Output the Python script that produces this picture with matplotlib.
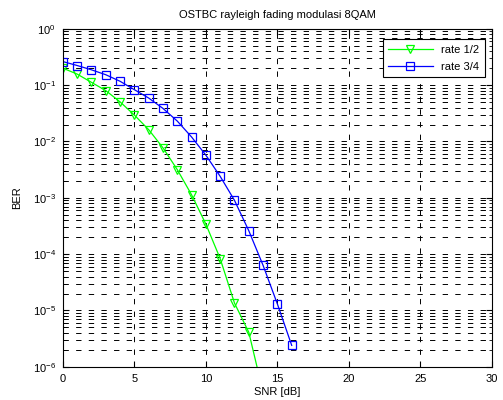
import numpy as np
import matplotlib
matplotlib.use("Agg")
import matplotlib.pyplot as plt
from matplotlib.ticker import LogLocator, NullFormatter, FixedLocator

plt.rcParams['font.family'] = ['Liberation Sans', 'DejaVu Sans']
plt.rcParams['font.size'] = 8

snr_half = [0, 1, 2, 3, 4, 5, 6, 7, 8, 9, 10, 11, 12, 13, 14]
ber_half = [0.2, 0.157, 0.112, 0.08, 0.0504, 0.0294, 0.0162, 0.0077, 0.00316,
            0.00113, 3.4e-4, 8.3e-5, 1.35e-5, 4.1e-6, 3.5e-7]

snr_34 = [0, 1, 2, 3, 4, 5, 6, 7, 8, 9, 10, 11, 12, 13, 14, 15, 16]
ber_34 = [0.262, 0.223, 0.187, 0.153, 0.117, 0.083, 0.059, 0.0386, 0.023,
          0.012, 0.0057, 0.0024, 9e-4, 2.6e-4, 6.3e-5, 1.3e-5, 2.4e-6]

decades = [1e-6, 1e-5, 1e-4, 1e-3, 1e-2, 1e-1, 1e0]

fig = plt.figure(figsize=(5.03, 4.0), dpi=100)
ax = fig.add_axes([0.125, 0.083, 0.853, 0.845])

ax.semilogy(snr_half, ber_half, color=(0, 1, 0), lw=0.9, marker='v',
            ms=6, mfc='none', mec=(0, 1, 0), mew=0.9, label='rate 1/2')
ax.semilogy(snr_34, ber_34, color=(0, 0, 1), lw=0.9, marker='s',
            ms=5.5, mfc='none', mec=(0, 0, 1), mew=0.9, label='rate 3/4')

ax.set_xlim(0, 30)
ax.set_ylim(1e-6, 1)
ax.set_xticks([0, 5, 10, 15, 20, 25, 30])
ax.yaxis.set_major_locator(FixedLocator(decades))
ax.yaxis.set_minor_locator(LogLocator(base=10, subs=np.arange(2, 10), numticks=10))
ax.yaxis.set_minor_formatter(NullFormatter())

dash = (0, (5.5, 7.5))
ax.grid(True, which='major', axis='x', color='k', ls=dash, lw=0.7)
ax.grid(True, which='both', axis='y', color='k', ls=dash, lw=0.7)
ax.tick_params(which='both', direction='in', top=True, right=True)
ax.tick_params(which='major', length=4, pad=5)
ax.tick_params(which='minor', length=2)

ax.set_title('OSTBC rayleigh fading modulasi 8QAM', fontsize=8, pad=8)
ax.set_xlabel('SNR [dB]', labelpad=2)
ax.set_ylabel('BER', labelpad=8)

leg = ax.legend(loc='upper right', fontsize=8, fancybox=False, framealpha=1,
                edgecolor='k', handlelength=4, borderpad=0.5, labelspacing=0.6,
                bbox_to_anchor=(0.997, 0.985))
leg.get_frame().set_linewidth(0.8)

fig.savefig('out.png', dpi=100)
